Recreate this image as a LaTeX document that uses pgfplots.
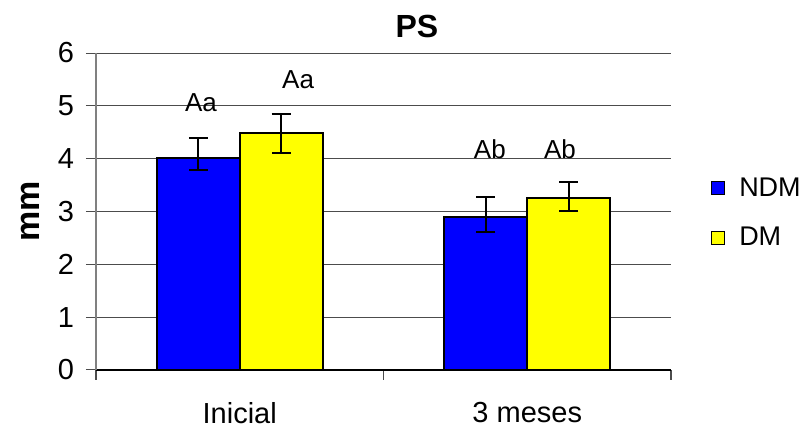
\documentclass[border=0pt]{standalone}
\usepackage{fontspec}
\setmainfont{Liberation Sans}
\usepackage{pgfplots}
\pgfplotsset{compat=1.18}
\definecolor{ndm}{HTML}{0000FF}
\definecolor{dm}{HTML}{FFFF00}
\begin{document}
\begin{tikzpicture}
\begin{axis}[
  name=ax,
  scale only axis, width=287.5pt, height=158.5pt,
  xmin=-0.5, xmax=1.5, ymin=0, ymax=6,
  axis x line*=bottom, axis y line*=left,
  axis line style={-},
  x axis line style={black, line width=0.6pt},
  y axis line style={black!50, line width=0.8pt},
  xtick={0,1}, xticklabels={Inicial,3 meses},
  major x tick style={draw=none},
  minor xtick={-0.5,0.5,1.5},
  minor x tick style={black!70, line width=0.6pt},
  minor tick length=5pt,
  ytick={0,1,2,3,4,5,6},
  y tick style={black!70, line width=0.5pt},
  major tick length=5pt,
  tick align=outside,
  ymajorgrids,
  major grid style={black!70, line width=0.5pt},
  /pgf/number format/assume math mode=true,
  yticklabel style={font=\fontsize{14.5}{14.5}\selectfont, xshift=-2.5pt},
  xticklabel style={font=\fontsize{14.5}{14.5}\selectfont, yshift=-7.5pt},
  title=PS,
  title style={at={(axis description cs:0.558,1)}, anchor=center, yshift=7.5pt, font=\bfseries\fontsize{16}{16}\selectfont},
  ylabel=mm,
  ylabel style={at={(axis description cs:-0.115,0.5)}, anchor=center, font=\bfseries\fontsize{17}{17}\selectfont},
  legend style={at={(axis description cs:1.058,0.495)}, anchor=west, draw=none, fill=none,
    font=\fontsize{13.5}{13.5}\selectfont, row sep=10pt, cells={anchor=west}},
  legend image code/.code={\draw[#1,draw=black,line width=0.6pt] (0pt,-3.25pt) rectangle (6.5pt,3.25pt); \path (11.5pt,0pt);},
]
\addplot[ybar, bar width=41.5pt, bar shift=0pt, fill=ndm, draw=black, line width=0.9pt,
  error bars/.cd, y dir=both, y explicit,
  error bar style={line width=1pt, black},
  error mark options={rotate=90, mark size=4.75pt, line width=1pt, black}]
  coordinates {(-0.1443,4.01) += (0,0.38) -= (0,0.22) (0.8557,2.90) += (0,0.37) -= (0,0.28)};
\addplot[ybar, bar width=41.5pt, bar shift=0pt, fill=dm, draw=black, line width=0.9pt,
  error bars/.cd, y dir=both, y explicit,
  error bar style={line width=1pt, black},
  error mark options={rotate=90, mark size=4.75pt, line width=1pt, black}]
  coordinates {(0.1443,4.48) += (0,0.37) -= (0,0.38) (1.1443,3.26) += (0,0.29) -= (0,0.25)};
\addplot[forget plot, draw=none, mark=none, nodes near coords, point meta=explicit symbolic,
  every node near coord/.append style={anchor=center, font=\fontsize{13}{13}\selectfont, black}]
  coordinates {(-0.135,5.06) [Aa] (0.203,5.49) [Aa] (0.870,4.17) [Ab] (1.114,4.17) [Ab]};
\legend{NDM,DM}
\end{axis}
\pgfresetboundingbox
\path[use as bounding box] ([xshift=-48pt,yshift=-29pt]ax.south west) rectangle ([xshift=69pt,yshift=26.5pt]ax.north east);
\end{tikzpicture}
\end{document}
